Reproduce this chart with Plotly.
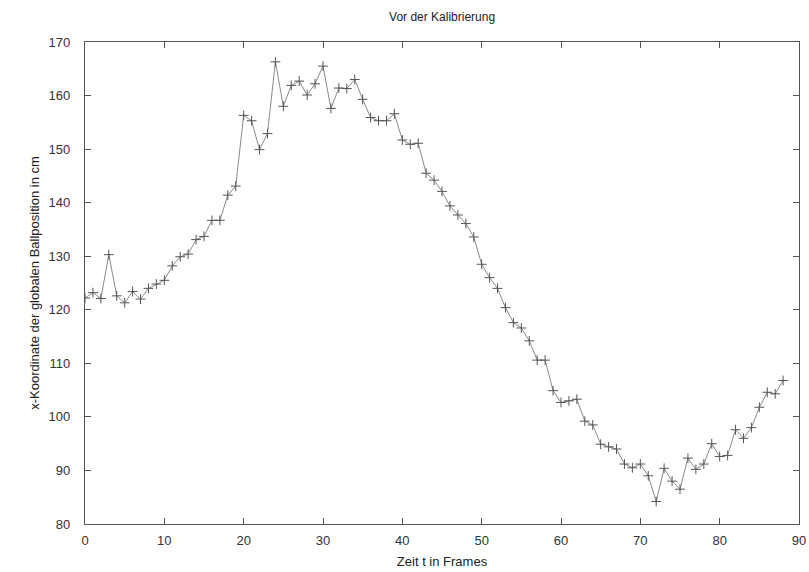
import plotly.graph_objects as go

frames = list(range(0, 89))
x_pos = [
    122.2, 123.2, 122.1, 130.3, 122.6, 121.3, 123.4, 122.0, 124.0, 124.8,
    125.5, 128.2, 129.9, 130.4, 133.1, 133.7, 136.7, 136.7, 141.4, 143.1,
    156.3, 155.3, 149.9, 152.9, 166.3, 158.0, 161.9, 162.7, 160.1, 162.2,
    165.5, 157.6, 161.4, 161.3, 163.0, 159.3, 155.9, 155.3, 155.3, 156.6,
    151.7, 150.9, 151.1, 145.5, 144.2, 142.1, 139.4, 137.7, 136.1, 133.6,
    128.5, 126.0, 124.0, 120.4, 117.6, 116.6, 114.2, 110.6, 110.6, 104.9,
    102.7, 103.0, 103.3, 99.2, 98.5, 94.9, 94.4, 94.0, 91.2, 90.5,
    91.2, 89.0, 84.2, 90.4, 88.0, 86.5, 92.3, 90.2, 91.2, 95.0,
    92.6, 92.8, 97.6, 96.0, 98.0, 101.8, 104.6, 104.3, 106.8,
]

x_ticks = [0, 10, 20, 30, 40, 50, 60, 70, 80, 90]
y_ticks = [80, 90, 100, 110, 120, 130, 140, 150, 160, 170]

fig = go.Figure()
fig.add_trace(go.Scatter(
    x=frames, y=x_pos, mode="lines+markers",
    line=dict(color="#8a8a8a", width=1),
    marker=dict(symbol="cross-thin", size=7, line=dict(color="#555555", width=1), color="#555555"),
    showlegend=False,
))

font = "Liberation Sans, Arial, Helvetica, sans-serif"
axis_common = dict(
    showgrid=False, zeroline=False, showline=True, mirror="ticks",
    linecolor="#555555", linewidth=1.2, automargin=False,
    ticks="inside", ticklen=6, tickcolor="#555555", tickwidth=1.2,
    tickfont=dict(family=font, size=13, color="#333333"),
)

fig.update_layout(
    width=809, height=572,
    margin=dict(l=85, r=10, t=42, b=48),
    paper_bgcolor="white", plot_bgcolor="white",
    title=dict(text="Vor der Kalibrierung", x=0.5465, xanchor="center", y=0.97, yanchor="middle",
               font=dict(family=font, size=12, color="#222222")),
    xaxis=dict(range=[0, 90], tickvals=x_ticks, ticktext=[str(v) for v in x_ticks],
               ticklabelstandoff=4,
               title=dict(text="Zeit t in Frames", font=dict(family=font, size=13, color="#222222"), standoff=10),
               **axis_common),
    yaxis=dict(range=[80, 170], tickvals=y_ticks, ticktext=[str(v) for v in y_ticks],
               ticklabelstandoff=11,
               title=dict(text="x-Koordinate der globalen Ballposition in cm", font=dict(family=font, size=13, color="#222222"), standoff=6),
               **axis_common),
)

fig.write_html("out.html")
